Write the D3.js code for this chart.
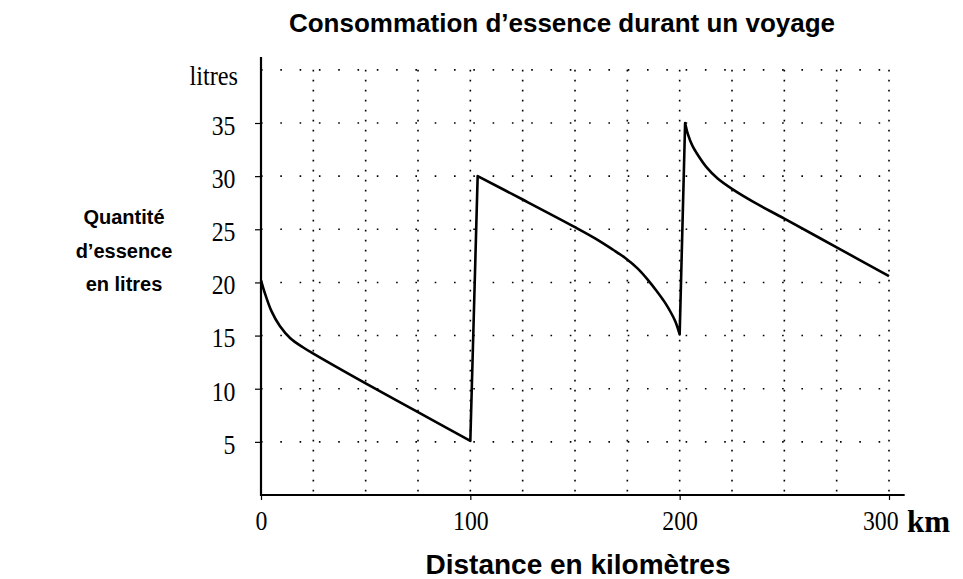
<!DOCTYPE html>
<html>
<head>
<meta charset="utf-8">
<script src="https://cdn.jsdelivr.net/npm/d3@7"></script>
<style>
  body { margin: 0; background: #fff; }
  svg { display: block; }
  .lbl { font-family: "Liberation Sans", Arial, sans-serif; font-weight: bold; fill: #000; }
  .tick text { font-family: "Liberation Serif", "Times New Roman", serif; font-size: 27px; fill: #000; }
</style>
</head>
<body>
<svg id="chart" width="963" height="579"></svg>
<script>
// valeurs (3 tronçons entre les pleins)
var distanceKm = [0, 2, 5, 9, 14, 20, 25, 50, 75, 100,
    103.5, 125, 150, 160, 168, 174, 180, 185, 189, 193, 196, 198, 199.4, 200,
    202.6, 204, 206, 209, 213, 218, 225, 235, 250, 275, 300];
var fuelLitres = [20.2, 18.9, 17.3, 15.9, 14.75, 13.9, 13.3, 10.5, 7.8, 5.1,
    30.0, 27.8, 25.2, 24.1, 23.1, 22.3, 21.3, 20.2, 19.2, 18.1, 17.1, 16.3, 15.5, 15.1,
    35.0, 33.9, 32.9, 31.9, 30.8, 29.8, 28.8, 27.6, 26.0, 23.3, 20.6];
var refuelKm = [100, 200];

var xTicks = [0, 100, 200, 300],
    yTicks = [5, 10, 15, 20, 25, 30, 35],
    xGrid = d3.range(25, 301, 25),
    yGrid = d3.range(5, 41, 5);

var title = "Consommation d\u2019essence durant un voyage",
    xTitle = "Distance en kilom\u00e8tres",
    yTitle = ["Quantit\u00e9", "d\u2019essence", "en litres"];

var svg = d3.select("#chart");

var x = d3.scaleLinear().domain([0, 300]).range([261, 889]),
    y = d3.scaleLinear().domain([0, 35]).range([495, 123]);

// grille en pointillés
svg.append("g").selectAll("line").data(xGrid).enter().append("line")
    .attr("x1", function (d) { return x(d); }).attr("x2", function (d) { return x(d); })
    .attr("y1", y(40)).attr("y2", y(0))
    .attr("stroke", "#000").attr("stroke-width", 1.6)
    .attr("stroke-dasharray", "1.6 8.4");

svg.append("g").selectAll("line").data(yGrid).enter().append("line")
    .attr("x1", x(0)).attr("x2", x(300))
    .attr("y1", function (d) { return y(d); }).attr("y2", function (d) { return y(d); })
    .attr("stroke", "#000").attr("stroke-width", 1.6)
    .attr("stroke-dasharray", "1.6 17.7");

// axes
var yAxis = svg.append("g").attr("transform", `translate(${x(0)},0)`)
    .call(d3.axisLeft(y).tickValues(yTicks).tickSize(6).tickSizeOuter(0));
yAxis.select(".domain").remove();
yAxis.selectAll(".tick line").attr("stroke-width", 1.2);
yAxis.selectAll(".tick text").attr("x", -29).attr("dy", "0.42em")
    .attr("transform", "scale(0.88,1)");

var xAxis = svg.append("g").attr("transform", `translate(0,${y(0)})`)
    .call(d3.axisBottom(x).tickValues(xTicks).tickSize(5).tickSizeOuter(0));
xAxis.select(".domain").remove();
xAxis.selectAll(".tick line").attr("stroke-width", 1.2);
xAxis.selectAll(".tick text").attr("y", 16).attr("dy", "0.71em")
    .attr("transform", "scale(0.88,1)");
xAxis.selectAll(".tick").filter(function (d) { return d == 300; }).select("text")
    .attr("x", -10);

svg.append("line").attr("x1", x(0)).attr("x2", x(0)).attr("y1", y(41.2)).attr("y2", y(0) + 1)
    .attr("stroke", "#000").attr("stroke-width", 2.2);
svg.append("line").attr("x1", x(0) - 1).attr("x2", x(307.5)).attr("y1", y(0)).attr("y2", y(0))
    .attr("stroke", "#000").attr("stroke-width", 2.2);

svg.append("text")
    .attr("transform", `translate(238,${y(40) + 15}) scale(0.9,1)`)
    .attr("text-anchor", "end")
    .style("font-family", "Liberation Serif, serif").style("font-size", "27px")
    .text("litres");
svg.append("text")
    .attr("transform", `translate(907,${y(0) + 37})`)
    .style("font-family", "Liberation Serif, serif").style("font-size", "31px")
    .style("font-weight", "bold")
    .text("km");

// courbe : un tronçon lissé par plein, reliés par les remontées
var pts = d3.zip(distanceKm, fuelLitres);
var legs = [pts.filter(function (d) { return d[0] <= refuelKm[0]; }),
    pts.filter(function (d) { return d[0] > refuelKm[0] && d[0] <= refuelKm[1]; }),
    pts.filter(function (d) { return d[0] > refuelKm[1]; })];
var leg = d3.line().curve(d3.curveCatmullRom.alpha(0.5))
    .x(function (d) { return x(d[0]); }).y(function (d) { return y(d[1]); });
var pathD = legs.map(function (l) { return leg(l); }).join("")
    .replace(/M/g, "L").replace(/^L/, "M");
svg.append("path")
    .attr("fill", "none").attr("stroke", "#000").attr("stroke-width", 2.6)
    .attr("stroke-linejoin", "round")
    .attr("d", pathD);

// titres
svg.append("text").attr("class", "lbl").attr("x", 562).attr("y", 32)
    .attr("text-anchor", "middle").style("font-size", "26px").text(title);
svg.append("text").attr("class", "lbl").attr("x", 578).attr("y", 574)
    .attr("text-anchor", "middle").style("font-size", "28px").text(xTitle);
svg.append("g").selectAll("text").data(yTitle).enter().append("text")
    .attr("class", "lbl").attr("x", 124).attr("y", function (d, i) { return 224 + i * 33.5; })
    .attr("text-anchor", "middle").style("font-size", "20px").text(function (d) { return d; });
</script>
</body>
</html>
